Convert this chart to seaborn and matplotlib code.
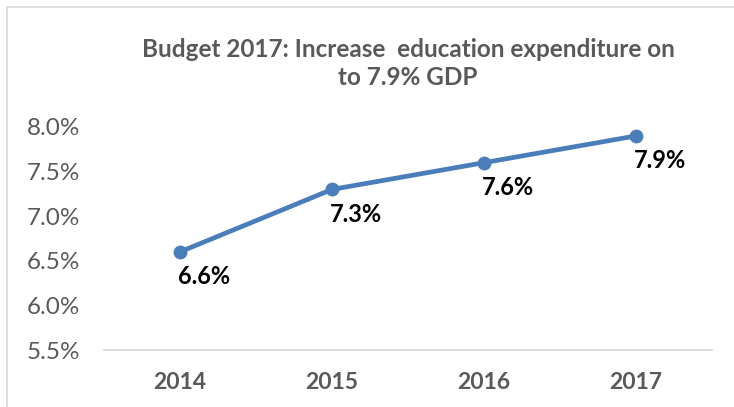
import matplotlib
matplotlib.use("Agg")
import matplotlib.pyplot as plt
import seaborn as sns
import pandas as pd
import numpy as np
from matplotlib.patches import Rectangle

# Education expenditure as share of GDP
years = ["2014", "2015", "2016", "2017"]
share_gdp = [6.6, 7.3, 7.6, 7.9]
y_ticks = [5.5, 6.0, 6.5, 7.0, 7.5, 8.0]

sns.set_theme(style="white")
plt.rcParams["font.family"] = ["Lato", "DejaVu Sans"]

df = pd.DataFrame({"pos": np.arange(len(years)), "year": years, "value": share_gdp})

fig = plt.figure(figsize=(7.34, 4.07), dpi=100)
ax = fig.add_axes([0.1417, 0.140, 0.970 - 0.1417, 0.688 - 0.140])

line_color = "#4a7ebb"
sns.lineplot(data=df, x="pos", y="value", ax=ax, color=line_color, linewidth=3.4,
             marker="o", markersize=10, markeredgewidth=0, zorder=3)

ax.set_xlim(-0.5, len(years) - 0.5)
ax.set_ylim(y_ticks[0], y_ticks[-1])
ax.set_yticks(y_ticks)
ax.set_yticklabels([f"{t:.1f}%" for t in y_ticks], color="#595959", fontsize=17.5)
ax.set_xticks(df["pos"])
ax.set_xticklabels(years, color="#595959", fontsize=16.5, fontweight="bold")
ax.tick_params(axis="y", length=0, pad=17)
ax.tick_params(axis="x", length=0, pad=16)
ax.set_xlabel("")
ax.set_ylabel("")

for side in ["top", "right", "left"]:
    ax.spines[side].set_visible(False)
ax.spines["bottom"].set_color("#d9d9d9")
ax.spines["bottom"].set_linewidth(1.3)
ax.grid(False)

for x, v in zip(df["pos"], df["value"]):
    ax.annotate(f"{v:.1f}%", (x, v), xytext=(24, -25), textcoords="offset pixels",
                ha="center", va="center", fontsize=17, fontweight="bold", color="black")

ax.set_title("Budget 2017: Increase  education expenditure on\nto 7.9% GDP",
             fontsize=17.5, fontweight="bold", color="#595959", pad=30, linespacing=1.3)

# chart frame
fig.patches.append(Rectangle((7 / 734, -0.1), 1.2, 1 - 7 / 407 + 0.1,
                             transform=fig.transFigure, fill=False,
                             edgecolor="#d9d9d9", linewidth=1.2))

fig.savefig("out.png", dpi=100, facecolor="white")
